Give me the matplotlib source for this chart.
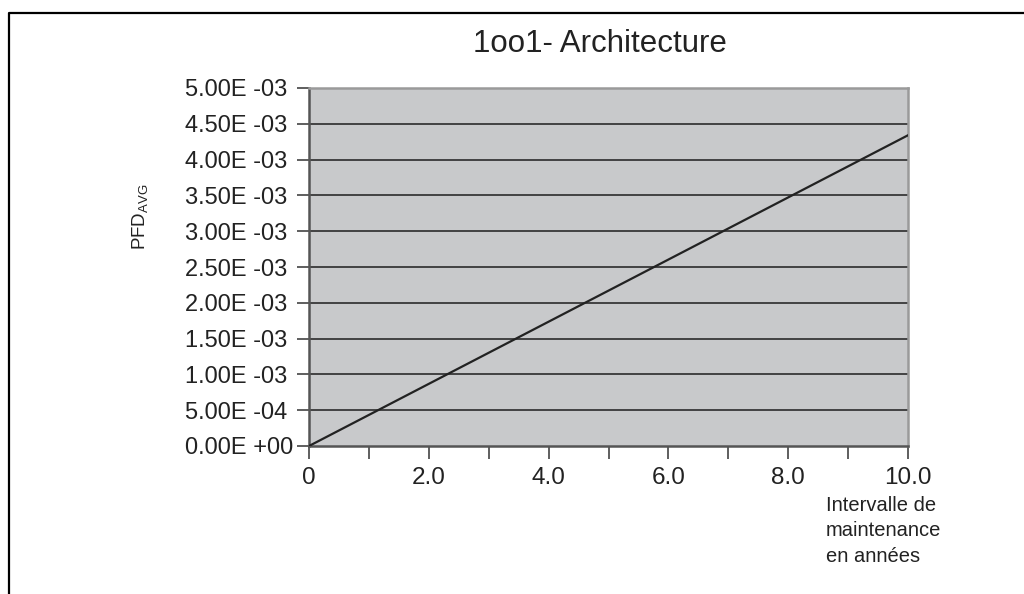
import numpy as np
import matplotlib
matplotlib.use("Agg")
import matplotlib.pyplot as plt
from matplotlib.lines import Line2D
import matplotlib.ticker as ticker

plt.rcParams["font.family"] = ["Liberation Sans", "DejaVu Sans"]

# Données
interval_years = [0.0, 10.0]
pfd_avg = [0.0, 4.34e-3]

y_ticks = [0.0, 5e-4, 1e-3, 1.5e-3, 2e-3, 2.5e-3, 3e-3, 3.5e-3, 4e-3, 4.5e-3, 5e-3]
y_tick_labels = ["0.00E +00", "5.00E -04", "1.00E -03", "1.50E -03", "2.00E -03",
                 "2.50E -03", "3.00E -03", "3.50E -03", "4.00E -03", "4.50E -03",
                 "5.00E -03"]
x_major = [0, 2, 4, 6, 8, 10]
x_major_labels = ["0", "2.0", "4.0", "6.0", "8.0", "10.0"]
x_minor = [1, 3, 5, 7, 9]

W, H = 1024, 594
fig = plt.figure(figsize=(W / 100, H / 100), dpi=100)
ax = fig.add_axes([309 / W, 1 - 446 / H, (908 - 309) / W, (446 - 88) / H])
ax.set_facecolor("#c8c9cb")

# quadrillage horizontal
for yv in y_ticks[1:-1]:
    ax.axhline(yv, color="#1e1e1e", lw=1.1, zorder=1)

ax.plot(interval_years, pfd_avg, color="#222222", lw=1.6, zorder=3)

ax.set_xlim(0, 10)
ax.set_ylim(0, 5e-3)

ax.xaxis.set_major_locator(ticker.FixedLocator(x_major))
ax.xaxis.set_minor_locator(ticker.FixedLocator(x_minor))
ax.set_xticklabels(x_major_labels, fontsize=17.5, color="#222222")
ax.tick_params(axis="x", which="both", direction="out", length=9, width=1.1,
               color="#333333", pad=6)

ax.set_yticks(y_ticks)
ax.set_yticklabels(y_tick_labels, fontsize=17, color="#222222", ha="left")
# étiquettes Y alignées à gauche (x = 185 px)
ax.tick_params(axis="y", direction="out", length=9, width=1.1, color="#333333",
               pad=(309 - 185 - 9) * 0.72 - 2.2)

for side in ["left", "bottom"]:
    ax.spines[side].set_color("#555555")
    ax.spines[side].set_linewidth(1.8)
for side in ["top", "right"]:
    ax.spines[side].set_color("#9a9a9a")
    ax.spines[side].set_linewidth(1.8)

# titre
fig.text(600 / W, 1 - 44 / H, "1oo1- Architecture", fontsize=22.5, ha="center",
         va="center", color="#222222")

# étiquette Y
fig.text(141 / W, 1 - 217 / H, r"PFD$_{\mathregular{AVG}}$", fontsize=13.5,
         rotation=90, ha="center", va="center", color="#222222")

# étiquette X
fig.text(826 / W, 1 - 496 / H,
         "Intervalle de\nmaintenance\nen années", fontsize=14.5, ha="left",
         va="top", color="#222222", linespacing=1.42)

# cadre
fig.add_artist(Line2D([9 / W, 9 / W, 1.0], [0.0, 1 - 13 / H, 1 - 13 / H],
                      transform=fig.transFigure, color="black", lw=1.6))

fig.savefig("out.png", dpi=100)
